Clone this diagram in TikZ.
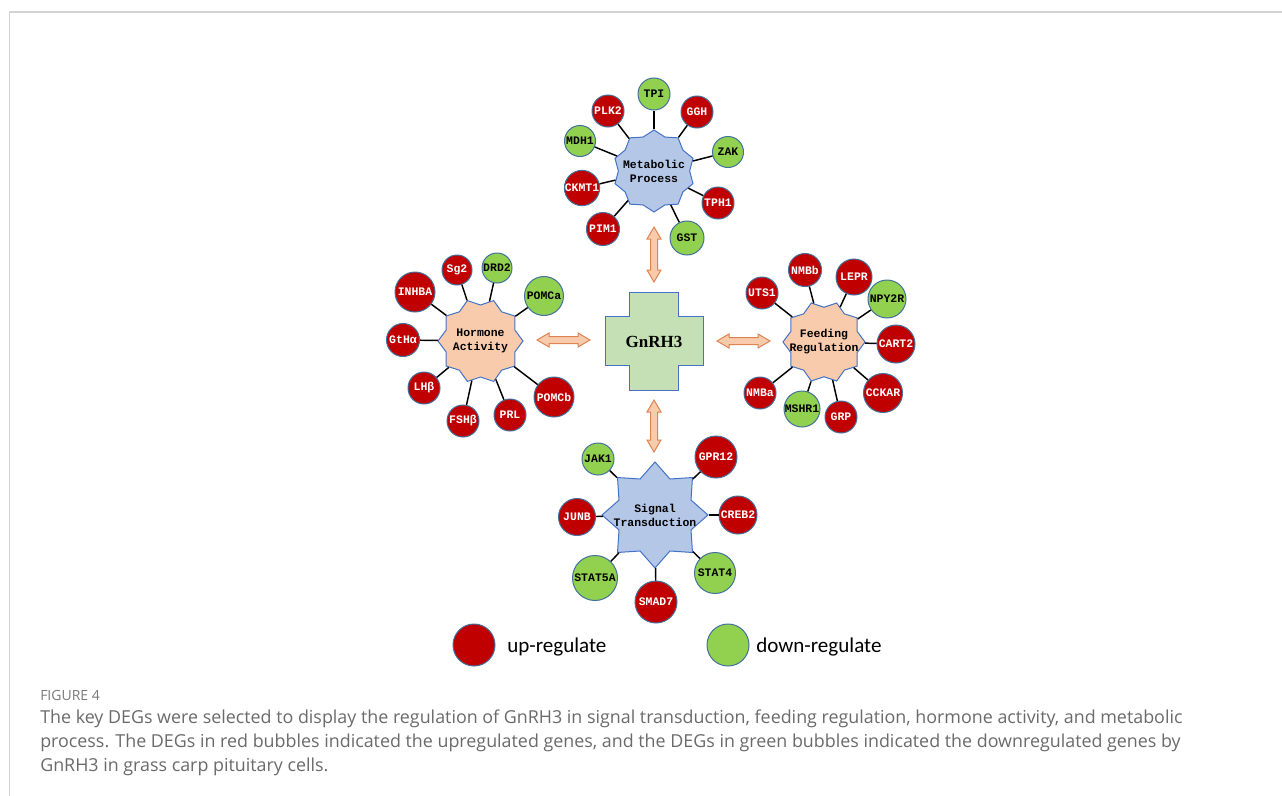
\documentclass[tikz,border=0pt]{standalone}
\usepackage{fontspec}
\setmainfont{Liberation Serif}
\newfontfamily\genefont{Liberation Mono}
\newfontfamily\capfont{Open Sans}
\newfontfamily\legfont{Carlito}
\usetikzlibrary{shapes.geometric}
\definecolor{upred}{HTML}{C00000}
\definecolor{dngreen}{HTML}{92D050}
\definecolor{circedge}{HTML}{41719C}
\definecolor{staredge}{HTML}{4472C4}
\definecolor{starblue}{HTML}{B4C7E7}
\definecolor{starpeach}{HTML}{F8CBAD}
\definecolor{crossgreen}{HTML}{C5E0B4}
\definecolor{arrfill}{HTML}{F8CBAD}
\definecolor{arredge}{HTML}{DD8452}
\definecolor{framegray}{HTML}{D3D3D3}
\definecolor{capgray}{HTML}{6A6A6A}
\tikzset{
  gene/.style={circle, draw=circedge, line width=0.75pt, inner sep=0pt,
    minimum size={#1*0.75pt},
    font=\genefont\bfseries\fontsize{8.6}{10}\selectfont},
  gup/.style={gene=#1, fill=upred, text=white},
  gdn/.style={gene=#1, fill=dngreen, text=black},
  proc/.style={star, draw=staredge, line width=0.75pt, inner sep=0pt},
  proclabel/.style={align=center, font=\genefont\bfseries\fontsize{8.6}{10.5}\selectfont},
  link/.style={draw=black, line width=1.1pt},
  barrow/.style={fill=arrfill, draw=arredge, line width=0.75pt},
  captext/.style={anchor=west, text=capgray, inner sep=0pt, font=\capfont\fontsize{13.4}{15}\selectfont},
  legtext/.style={anchor=west, inner sep=0pt, font=\legfont\fontsize{15.8}{18}\selectfont},
}
\begin{document}
\begin{tikzpicture}[x=0.75pt,y=-0.75pt]
\useasboundingbox (0,0) rectangle (1282,796);
% frame
\draw[framegray, line width=1.1pt] (9.3,12) -- (1282,12);
\draw[framegray, line width=0.6pt] (9.3,12) -- (9.3,796);

% central cross
\draw[fill=crossgreen, draw=staredge, line width=0.75pt]
  (629,292) -- (678,292) -- (678,316) -- (703,316) -- (703,365) -- (678,365)
  -- (678,390) -- (629,390) -- (629,365) -- (605,365) -- (605,316) -- (629,316) -- cycle;
\node[font=\bfseries\fontsize{12.75}{14}\selectfont] (gnrh) at (654,342) {GnRH3};

% block double arrows
\filldraw[barrow] (537,340) -- ++(12,-7) -- ++(0,3.5) -- ++(29,0) -- ++(0,-3.5) -- ++(12,7)
  -- ++(-12,7) -- ++(0,-3.5) -- ++(-29,0) -- ++(0,3.5) -- cycle;
\filldraw[barrow] (717,341) -- ++(12,-7) -- ++(0,3.5) -- ++(29,0) -- ++(0,-3.5) -- ++(12,7)
  -- ++(-12,7) -- ++(0,-3.5) -- ++(-29,0) -- ++(0,3.5) -- cycle;
\filldraw[barrow] (654,227) -- ++(-7,12) -- ++(3.5,0) -- ++(0,31) -- ++(-3.5,0) -- ++(7,12)
  -- ++(7,-12) -- ++(-3.5,0) -- ++(0,-31) -- ++(3.5,0) -- cycle;
\filldraw[barrow] (654,400) -- ++(-7,12) -- ++(3.5,0) -- ++(0,28) -- ++(-3.5,0) -- ++(7,12)
  -- ++(7,-12) -- ++(-3.5,0) -- ++(0,-28) -- ++(3.5,0) -- cycle;

% process stars
\node[proc, fill=starblue, star points=10, star point ratio=1.15, minimum size={82*0.75pt},
  label={[proclabel]center:Metabolic\\Process}] (mp) at (654,171) {};
\node[proc, fill=starpeach, star points=10, star point ratio=1.18, shape border rotate=18,
  minimum size={85*0.75pt}, label={[proclabel]center:Hormone\\Activity}] (ha) at (480.5,341) {};
\node[proc, fill=starpeach, star points=10, star point ratio=1.18, shape border rotate=18,
  minimum size={82*0.75pt}, label={[proclabel]center:Feeding\\Regulation}] (fr) at (824,342) {};
\node[proc, fill=starblue, star points=8, star point ratio=1.36, minimum size={106*0.75pt},
  label={[proclabel]center:Signal\\Transduction}] (st) at (655,515) {};

% metabolic process genes
\node[gdn=32] (TPI) at (654,94) {TPI};
\node[gup=32] (PLK2) at (608,111) {PLK2};
\node[gup=32] (GGH) at (697,112) {GGH};
\node[gdn=31] (MDH1) at (580,141) {MDH1};
\node[gdn=31] (ZAK) at (728,152) {ZAK};
\node[gup=35] (CKMT1) at (582,188) {CKMT1};
\node[gup=32] (TPH1) at (718,203) {TPH1};
\node[gup=33] (PIM1) at (603,229) {PIM1};
\node[gdn=34] (GST) at (687,238) {GST};

% hormone activity genes
\node[gup=40] (INHBA) at (415,292) {INHBA};
\node[gup=30] (Sg2) at (457,270) {Sg2};
\node[gdn=30] (DRD2) at (497,268) {DRD2};
\node[gdn=39] (POMCa) at (544,296) {POMCa};
\node[gup=33] (GtHa) at (403,340) {GtHα};
\node[gup=32] (LHb) at (424,388) {LHβ};
\node[gup=32] (FSHb) at (463,421) {FSHβ};
\node[gup=32] (PRL) at (510,415) {PRL};
\node[gup=40] (POMCb) at (554,397) {POMCb};

% feeding regulation genes
\node[gup=32] (UTS1) at (762,293) {UTS1};
\node[gup=33] (NMBb) at (805,270) {NMBb};
\node[gup=36] (LEPR) at (854,277) {LEPR};
\node[gdn=38] (NPY2R) at (887,299) {NPY2R};
\node[gup=38] (CART2) at (896,344) {CART2};
\node[gup=39] (CCKAR) at (883,393) {CCKAR};
\node[gup=32] (GRP) at (841,417) {GRP};
\node[gdn=36] (MSHR1) at (802,409) {MSHR1};
\node[gup=32] (NMBa) at (760,393) {NMBa};

% signal transduction genes
\node[gdn=32] (JAK1) at (598,459) {JAK1};
\node[gup=42] (GPR12) at (716,457) {GPR12};
\node[gup=37] (JUNB) at (577,517) {JUNB};
\node[gup=38] (CREB2) at (738,515) {CREB2};
\node[gdn=45] (STAT5A) at (595,578) {STAT5A};
\node[gup=42] (SMAD7) at (656,602) {SMAD7};
\node[gdn=41] (STAT4) at (715,573) {STAT4};

% connectors
\foreach \g in {TPI,PLK2,GGH,MDH1,ZAK,CKMT1,TPH1,PIM1,GST} \draw[link] (mp) -- (\g);
\foreach \g in {INHBA,Sg2,DRD2,POMCa,GtHa,LHb,FSHb,PRL,POMCb} \draw[link] (ha) -- (\g);
\foreach \g in {UTS1,NMBb,LEPR,NPY2R,CART2,CCKAR,GRP,MSHR1,NMBa} \draw[link] (fr) -- (\g);
\foreach \g in {JAK1,GPR12,JUNB,CREB2,STAT5A,SMAD7,STAT4} \draw[link] (st) -- (\g);

% legend
\node[circle, fill=upred, draw=circedge, line width=0.75pt, minimum size={42*0.75pt}] (legup) at (474,645) {};
\node[legtext] (leguptxt) at (507,647) {up-regulate};
\node[circle, fill=dngreen, draw=circedge, line width=0.75pt, minimum size={42*0.75pt}] (legdn) at (728,645) {};
\node[legtext] (legdntxt) at (756,647) {down-regulate};

% caption
\node[anchor=west, inner sep=0pt, text=capgray!90, font=\capfont\fontsize{10.5}{12}\selectfont] (figlab) at (40,695) {FIGURE 4};
\node[captext] (cap1) at (40,719) {The key DEGs were selected to display the regulation of GnRH3 in signal transduction, feeding regulation, hormone activity, and metabolic};
\node[captext] (cap2) at (40,743) {process. The DEGs in red bubbles indicated the upregulated genes, and the DEGs in green bubbles indicated the downregulated genes by};
\node[captext] (cap3) at (40,767) {GnRH3 in grass carp pituitary cells.};
\end{tikzpicture}
\end{document}
